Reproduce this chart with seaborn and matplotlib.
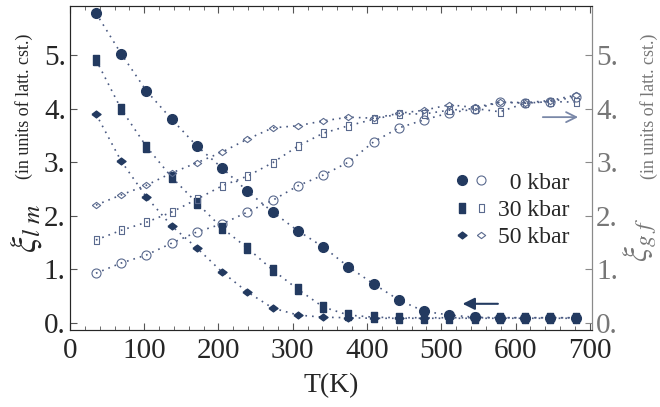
import numpy as np
import pandas as pd
import seaborn as sns
import matplotlib.pyplot as plt
from matplotlib.legend_handler import HandlerTuple
from matplotlib.ticker import MultipleLocator, FuncFormatter

sns.set_style('ticks')
plt.rcParams['font.family'] = ['Liberation Serif', 'DejaVu Serif']
plt.rcParams['mathtext.fontset'] = 'stix'

# Temperatures (K)
T = [35, 69, 103, 137, 171, 205, 239, 273, 307, 341,
     375, 409, 443, 477, 511, 545, 579, 613, 647, 681]

# xi_lm (filled markers, left axis)
lm_0 = [5.78, 5.02, 4.33, 3.80, 3.30, 2.89, 2.46, 2.07, 1.72, 1.42,
        1.05, 0.73, 0.43, 0.22, 0.15, 0.11, 0.10, 0.10, 0.10, 0.10]
lm_30 = [4.91, 3.99, 3.29, 2.72, 2.24, 1.77, 1.40, 0.99, 0.63, 0.30,
         0.15, 0.11, 0.10, 0.10, 0.10, 0.10, 0.10, 0.10, 0.10, 0.10]
lm_50 = [3.90, 3.02, 2.35, 1.81, 1.40, 0.95, 0.58, 0.28, 0.15, 0.11,
         0.10, 0.09, 0.09, 0.09, 0.09, 0.09, 0.09, 0.09, 0.09, 0.09]

# xi_gf (open markers, right axis)
gf_0 = [0.93, 1.12, 1.27, 1.49, 1.70, 1.85, 2.07, 2.29, 2.56, 2.76,
        3.00, 3.38, 3.64, 3.79, 3.92, 3.99, 4.12, 4.10, 4.13, 4.22]
gf_30 = [1.55, 1.73, 1.88, 2.07, 2.31, 2.56, 2.74, 2.99, 3.30, 3.54,
         3.68, 3.80, 3.90, 3.90, 3.97, 4.00, 3.94, 4.10, 4.13, 4.12]
gf_50 = [2.20, 2.39, 2.57, 2.80, 2.99, 3.19, 3.43, 3.64, 3.68, 3.77,
         3.84, 3.82, 3.91, 3.97, 4.07, 4.02, 4.12, 4.11, 4.15, 4.25]

labels = ['  0 kbar', '30 kbar', '50 kbar']

navy = '#233a60'
open_c = '#5a6a8e'
line_c = '#4a5a82'
grey = '#8a8a8a'

rect = [(-0.6, -1), (0.6, -1), (0.6, 1), (-0.6, 1), (-0.6, -1)]
diam = [(-1, 0), (0, -0.75), (1, 0), (0, 0.75), (-1, 0)]
markers = ['o', rect, diam]
fsize = [7, 6.5, 6.5]
osize = [6.5, 6, 6]

fig = plt.figure(figsize=(6.6, 4.07), dpi=100)
ax = fig.add_axes([0.106, 0.189, 0.791, 0.796])

handles = []
for lm, gf, m, fs, os_ in zip([lm_0, lm_30, lm_50], [gf_0, gf_30, gf_50],
                              markers, fsize, osize):
    sns.lineplot(x=T, y=lm, ax=ax, color=line_c, linestyle=(0, (1, 3)),
                 linewidth=1.2, zorder=2)
    sns.lineplot(x=T, y=gf, ax=ax, color=line_c, linestyle=(0, (1, 3)),
                 linewidth=1.2, zorder=2)
    f, = ax.plot(T, lm, linestyle='none', marker=m, markersize=fs,
                 color=navy, markeredgecolor=navy, zorder=3)
    o, = ax.plot(T, gf, linestyle='none', marker=m, markersize=os_,
                 markerfacecolor='none', markeredgecolor=open_c,
                 markeredgewidth=0.8, zorder=3)
    handles.append((f, o))

ax.set_xlim(0, 703)
ax.set_ylim(-0.13, 5.91)
ax.xaxis.set_major_locator(MultipleLocator(100))
ax.xaxis.set_minor_locator(MultipleLocator(20))
ax.yaxis.set_major_locator(MultipleLocator(1))
ax.yaxis.set_major_formatter(FuncFormatter(lambda v, p: f'{int(round(v))}.'))
ax.tick_params(axis='x', which='both', direction='in', top=True,
               labelsize=21, pad=6, color='#555555')
ax.tick_params(axis='x', which='major', length=5)
ax.tick_params(axis='x', which='minor', length=3)
ax.tick_params(axis='y', direction='in', length=5, labelsize=21,
               color='#555555', pad=3)
for s in ['left', 'bottom', 'top']:
    ax.spines[s].set_color('#555555')
ax.spines['right'].set_color(grey)

ax2 = ax.twinx()
ax2.set_ylim(ax.get_ylim())
ax2.yaxis.set_major_locator(MultipleLocator(1))
ax2.yaxis.set_major_formatter(FuncFormatter(lambda v, p: f'{int(round(v))}.'))
ax2.tick_params(axis='y', direction='in', length=5, labelsize=21,
                color=grey, labelcolor='#777777', pad=3)
ax2.spines['right'].set_color(grey)

ax.set_xlabel('T(K)', fontsize=20, labelpad=6)

# axis titles
fig.text(0.040, 0.44, r'$\xi_{l\ m}$', fontsize=26, rotation=90,
         ha='center', va='center')
fig.text(0.036, 0.74, '(in units of latt. cst.)', fontsize=13,
         rotation=90, ha='center', va='center')
fig.text(0.970, 0.41, r'$\xi_{g\ f}$', fontsize=24, rotation=90,
         ha='center', va='center', color='#777777')
fig.text(0.984, 0.74, '(in units of latt. cst.)', fontsize=13,
         rotation=90, ha='center', va='center', color='#777777')

# arrows
ax.annotate('', xy=(688, 3.84), xytext=(633, 3.84),
            arrowprops=dict(arrowstyle='->', color='#7a88a8', lw=1.3,
                            mutation_scale=18))
ax.annotate('', xy=(525, 0.36), xytext=(580, 0.36),
            arrowprops=dict(arrowstyle='-|>', color='#8a96b0', lw=1.5,
                            mutation_scale=18, fc=navy, ec=navy))

leg = ax.legend(handles=handles, labels=labels,
                handler_map={tuple: HandlerTuple(ndivide=None, pad=0.4)},
                frameon=False, fontsize=17, loc='center left',
                bbox_to_anchor=(0.72, 0.37), handlelength=1.2,
                handletextpad=0.5, labelspacing=0.25, borderpad=0)

fig.savefig('out.png', dpi=100)
